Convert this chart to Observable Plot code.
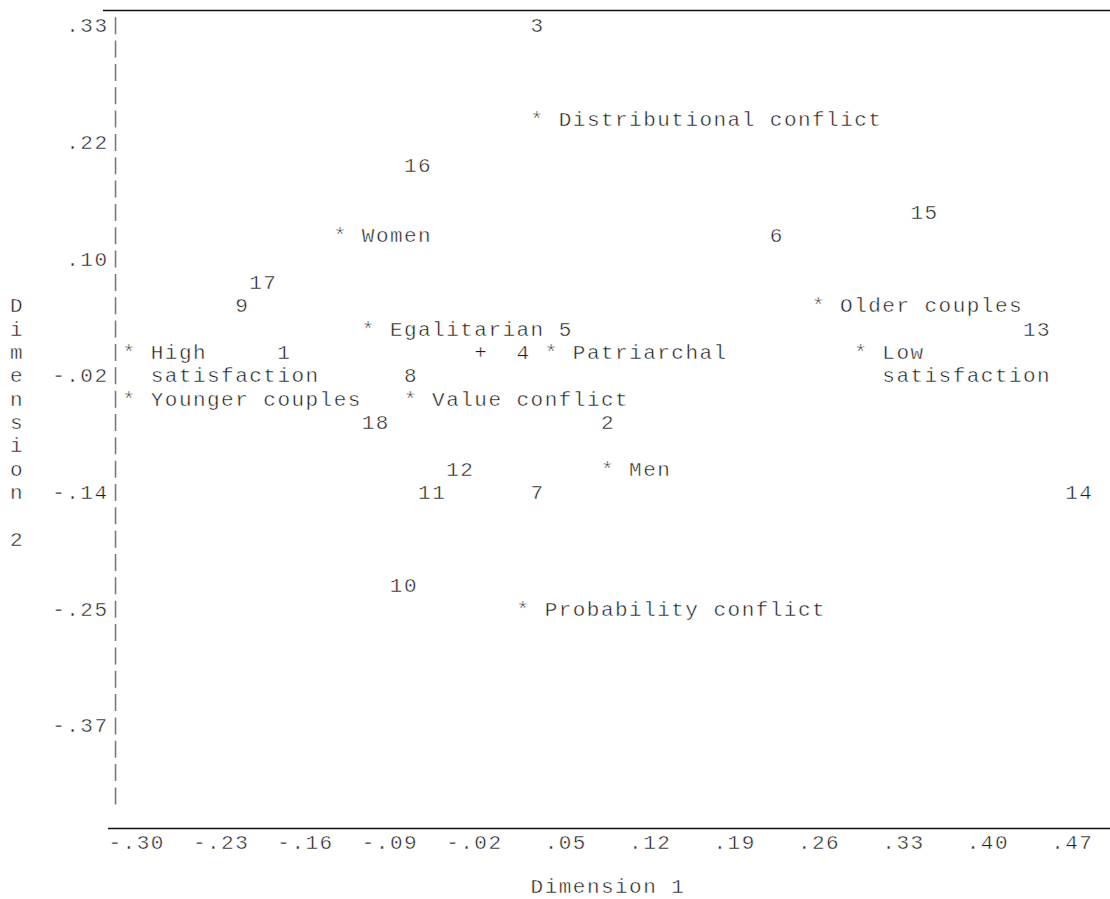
<!DOCTYPE html>
<html>
<head>
<meta charset="utf-8">
<script src="https://cdn.jsdelivr.net/npm/d3@7"></script>
<script src="https://cdn.jsdelivr.net/npm/@observablehq/plot@0.6"></script>
<style>
  html, body { margin: 0; padding: 0; background: #ffffff; }
  #chart svg { display: block; }
</style>
</head>
<body>
<div id="chart"></div>
<script>
// ---------------- data ----------------
const caseLabels = ["1","2","3","4","5","6","7","8","9","10","11","12","13","14","15","16","17","18"];
const caseDim1   = [-0.160, 0.1083, 0.050, 0.0383, 0.0733, 0.2483, 0.050, -0.055, -0.195, -0.0667, -0.0433, -0.020, 0.4583, 0.4933, 0.365, -0.055, -0.1833, -0.090];
const caseDim2   = [0.004, -0.0665, 0.333, 0.004, 0.0275, 0.1215, -0.137, -0.0195, 0.051, -0.231, -0.137, -0.1135, 0.0275, -0.137, 0.145, 0.192, 0.0745, -0.0665];

const categoryNames = ["Distributional conflict", "Women", "Older couples", "Egalitarian", "High\nsatisfaction", "Patriarchal", "Low\nsatisfaction", "Younger couples", "Value conflict", "Men", "Probability conflict"];
const categoryDim1  = [0.050, -0.1133, 0.2833, -0.090, -0.2883, 0.0617, 0.3183, -0.2883, -0.055, 0.1083, 0.0383];
const categoryDim2  = [0.239, 0.1215, 0.051, 0.0275, 0.004, 0.004, 0.004, -0.043, -0.043, -0.1135, -0.2545];

const originPoint = [0.0033, 0.004];

const xTickValues = [-0.30, -0.23, -0.16, -0.09, -0.02, 0.05, 0.12, 0.19, 0.26, 0.33, 0.40, 0.47];
const xTickLabels = ["-.30", "-.23", "-.16", "-.09", "-.02", ".05", ".12", ".19", ".26", ".33", ".40", ".47"];
const yTickValues = [0.333, 0.2155, 0.098, -0.0195, -0.137, -0.2545, -0.372];
const yTickLabels = [".33", ".22", ".10", "-.02", "-.14", "-.25", "-.37"];

const xTitle = "Dimension 1";
const yTitle = "Dimension 2";

// ---------------- layout (character grid of the text plot) ----------------
const W = 1110, H = 899;
const CW = 14.07;          // character cell width (px)
const RH = 23.34;          // row height (px)
const X0 = 108;            // left edge of the axis column
const Y0 = 31.7;           // baseline of the top row
const FS = 21;             // font size
const LS = CW - 0.6 * FS;  // letter spacing to fill the cell
const font = "'Liberation Mono', 'DejaVu Sans Mono', monospace";
const ink = "#1e1e1e";

const xStep = 0.07 / 6;    // data units per character column
const yStep = 0.0235;      // data units per row
const colX = c => xTickValues[0] + c * xStep;
const rowY = r => yTickValues[0] - r * yStep;

const cases = caseLabels.map((l, i) => ({label: l, x: caseDim1[i], y: caseDim2[i]}));
const cats = categoryNames.map((n, i) => ({name: n, x: categoryDim1[i], y: categoryDim2[i]}));
const catText = d => {
  const parts = d.name.split("\n");
  return "* " + parts[0] + (parts.length > 1 ? "\n\u00a0\u00a0" + parts[1] : "");
};
const xt = xTickValues.map((v, i) => ({v, label: xTickLabels[i]}));
const yt = yTickValues.map((v, i) => ({v, label: yTickLabels[i]}));

const textBase = {
  fontFamily: font, fontSize: FS, fill: ink,
  stroke: "#ffffff", strokeWidth: 0.45, paintOrder: "normal",
  lineAnchor: "bottom", lineHeight: RH / FS
};

const chart = Plot.plot({
  width: W,
  height: H,
  margin: 0,
  x: {domain: [xTickValues[0], xTickValues[xTickValues.length - 1]], range: [X0, X0 + 66 * CW], axis: null},
  y: {domain: [yTickValues[0], yTickValues[yTickValues.length - 1]], range: [Y0, Y0 + 30 * RH], axis: null},
  style: {fontFamily: font, fontSize: FS + "px", letterSpacing: LS.toFixed(2) + "px", background: "#ffffff", color: ink, overflow: "visible"},
  marks: [
    // frame lines (rows of underscores above and below the plot)
    Plot.ruleY([{y: rowY(-1), x1: colX(-0.36), x2: colX(71.3)}], {y: "y", x1: "x1", x2: "x2", dy: 1.6, stroke: "#111", strokeWidth: 1.6}),
    Plot.ruleY([{y: rowY(34), x1: colX(0), x2: colX(71.3)}], {y: "y", x1: "x1", x2: "x2", dy: 2.7, stroke: "#111", strokeWidth: 1.6}),
    // vertical axis made of "|" characters
    Plot.ruleX([{x: colX(0), y1: rowY(-14.5 / RH), y2: rowY(33 + 2.5 / RH)}], {x: "x", y1: "y1", y2: "y2", dx: CW / 2, stroke: "#7a7a7a", strokeWidth: 1.6, strokeDasharray: `17 ${(RH - 17).toFixed(2)}`}),
    // y tick labels
    Plot.text(yt, {...textBase, x: () => xTickValues[0], y: "v", text: "label", textAnchor: "end"}),
    // x tick labels (negative labels one column wider)
    Plot.text(xt.filter(d => d.v < 0), {...textBase, x: "v", y: () => rowY(35), text: "label", textAnchor: "start"}),
    Plot.text(xt.filter(d => d.v >= 0), {...textBase, x: "v", y: () => rowY(35), text: "label", textAnchor: "start", dx: CW}),
    // axis titles
    Plot.text([xTitle], {...textBase, x: () => colX(30), y: () => rowY(37), text: d => d, textAnchor: "start", dy: -3}),
    Plot.text([yTitle], {...textBase, x: () => colX(-7), y: () => rowY(22), text: d => d.split("").map(ch => ch === " " ? "" : ch).join("\n"), textAnchor: "start"}),
    // origin
    Plot.text([originPoint], {...textBase, x: d => d[0], y: d => d[1], text: () => "+", textAnchor: "start"}),
    // cases
    Plot.text(cases, {...textBase, x: "x", y: "y", text: "label", textAnchor: "start"}),
    // category points (single-line and wrapped labels)
    Plot.text(cats.filter(d => !d.name.includes("\n")), {...textBase, x: "x", y: "y", text: catText, textAnchor: "start"}),
    Plot.text(cats.filter(d => d.name.includes("\n")), {...textBase, x: "x", y: "y", text: catText, textAnchor: "start", dy: RH})
  ]
});

document.getElementById("chart").appendChild(chart);
</script>
</body>
</html>
